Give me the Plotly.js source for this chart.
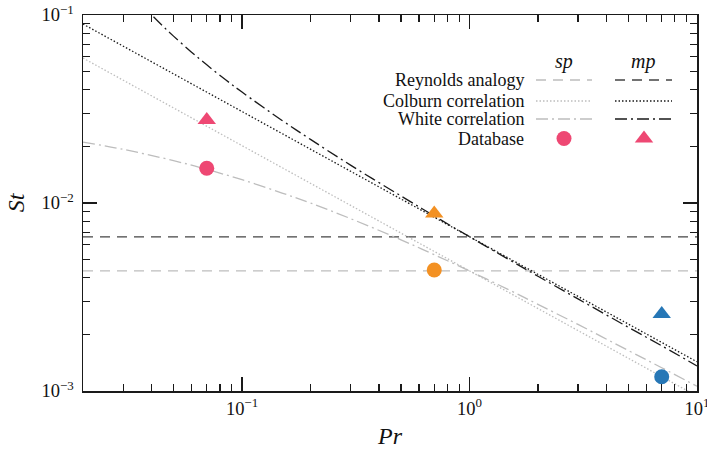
<!DOCTYPE html>
<html>
<head>
<meta charset="utf-8">
<script src="https://cdn.plot.ly/plotly-3.0.1.min.js"></script>
<style>html,body{margin:0;padding:0;background:#fff;}#chart{width:707px;height:455px;}</style>
</head>
<body>
<div id="chart"></div>
<script>
// ---- data ----
const linePr = [0.02, 10];
const reynoldsSp = [0.00435, 0.00435];
const reynoldsMp = [0.0066, 0.0066];
const colburnSp = [0.059, 0.00094];
const colburnMp = [0.0895, 0.00143];

const whiteSpPr = [0.02, 0.03, 0.05, 0.07, 0.1, 0.15, 0.2, 0.3, 0.5, 0.7, 1, 1.5, 2, 3, 5, 7, 10];
const whiteSp = [0.0211, 0.0193, 0.0168, 0.0151, 0.0133, 0.0113, 0.0100, 0.00826, 0.00637, 0.00531, 0.00435, 0.00344, 0.00289, 0.00226, 0.00164, 0.00133, 0.00106];
const whiteMpPr = [0.035, 0.04, 0.045, 0.05, 0.06, 0.07, 0.085, 0.1, 0.15, 0.2, 0.3, 0.5, 0.7, 1, 1.5, 2, 3, 5, 7, 10];
const whiteMp = [0.119, 0.1003, 0.087, 0.0772, 0.0634, 0.0543, 0.0451, 0.0389, 0.0275, 0.0218, 0.0159, 0.0109, 0.00853, 0.00662, 0.00498, 0.00408, 0.00309, 0.00218, 0.00174, 0.00136];

const dbPr = [0.07, 0.7, 7];
const dbSp = [0.0153, 0.0044, 0.00119];
const dbMp = [0.0276, 0.0088, 0.00257];
const dbColors = ['#EE4873', '#F39123', '#2677B6'];

const xTickVals = [0.1, 1, 10];
const xTickText = ['10<sup>−1</sup>', '10<sup>0</sup>', '10<sup>1</sup>'];
const yTickVals = [0.001, 0.01, 0.1];
const yTickText = ['10<sup>−3</sup>', '10<sup>−2</sup>', '10<sup>−1</sup>'];

const legendRows = ['Reynolds analogy', 'Colburn correlation', 'White correlation', 'Database'];

// ---- styles ----
const light = '#bdbdbd';
const dark = '#1a1a1a';
const dashR = '10px,7px';
const dashC = '1.5px,2px';
const dashW = '12px,4px,2px,4px';
const font = '"Liberation Serif", "Times New Roman", serif';

function minorVals(lo, hi) {
  const v = [];
  for (let e = lo; e < hi; e++) for (let m = 2; m <= 9; m++) v.push(m * Math.pow(10, e));
  return v;
}

const traces = [
  {x: linePr, y: reynoldsSp, mode: 'lines', line: {color: light, width: 1.3, dash: dashR}},
  {x: linePr, y: reynoldsMp, mode: 'lines', line: {color: '#444', width: 1.3, dash: dashR}},
  {x: linePr, y: colburnSp, mode: 'lines', line: {color: light, width: 1.3, dash: dashC}},
  {x: linePr, y: colburnMp, mode: 'lines', line: {color: dark, width: 1.3, dash: dashC}},
  {x: whiteSpPr, y: whiteSp, mode: 'lines', line: {color: light, width: 1.3, dash: dashW, shape: 'spline'}},
  {x: whiteMpPr, y: whiteMp, mode: 'lines', line: {color: dark, width: 1.3, dash: dashW, shape: 'spline'}},
  {x: dbPr, y: dbSp, mode: 'markers', marker: {symbol: 'circle', size: 15, color: dbColors}},
  {x: dbPr, y: dbMp, mode: 'markers', marker: {symbol: 'triangle-up', size: 16, color: dbColors}},
];

// legend drawn on an overlay axis pair measured in plot pixels
const rowY = [65, 86, 104, 123.5];
const spX = [453, 509], mpX = [532, 589];
const legStyles = [
  [{color: light, dash: dashR}, {color: '#444', dash: dashR}],
  [{color: light, dash: dashC}, {color: dark, dash: dashC}],
  [{color: light, dash: dashW}, {color: dark, dash: dashW}],
];
legStyles.forEach((st, i) => {
  traces.push({x: spX, y: [rowY[i], rowY[i]], xaxis: 'x2', yaxis: 'y2', mode: 'lines', line: Object.assign({width: 1.3}, st[0])});
  traces.push({x: mpX, y: [rowY[i], rowY[i]], xaxis: 'x2', yaxis: 'y2', mode: 'lines', line: Object.assign({width: 1.3}, st[1])});
});
traces.push({x: [481], y: [rowY[3]], xaxis: 'x2', yaxis: 'y2', mode: 'markers', marker: {symbol: 'circle', size: 15, color: dbColors[0]}});
traces.push({x: [561], y: [rowY[3]], xaxis: 'x2', yaxis: 'y2', mode: 'markers', marker: {symbol: 'triangle-up', size: 16, color: dbColors[0]}});

const annotations = legendRows.map((t, i) => ({
  xref: 'x2', yref: 'y2', x: 443, y: rowY[i], text: t, showarrow: false,
  xanchor: 'right', yanchor: 'middle', font: {family: font, size: 18, color: '#111'}
}));
annotations.push({xref: 'x2', yref: 'y2', x: 481, y: 46, text: '<i>sp</i>', showarrow: false, xanchor: 'center', yanchor: 'middle', font: {family: font, size: 20, color: '#111'}});
annotations.push({xref: 'x2', yref: 'y2', x: 560, y: 46, text: '<i>mp</i>', showarrow: false, xanchor: 'center', yanchor: 'middle', font: {family: font, size: 20, color: '#111'}});

const axisCommon = {
  type: 'log', showgrid: false, zeroline: false, showline: true, linecolor: dark, linewidth: 1.5,
  mirror: 'allticks', ticks: 'inside', ticklen: 14, tickwidth: 1.2, tickcolor: dark, tickmode: 'array',
  tickfont: {family: font, size: 18.5, color: '#111'}, ticklabeloverflow: 'allow',
};

const layout = {
  width: 707, height: 455,
  margin: {l: 83, r: 10, t: 15, b: 64},
  paper_bgcolor: '#fff', plot_bgcolor: '#fff',
  showlegend: false,
  xaxis: Object.assign({}, axisCommon, {
    range: [Math.log10(0.02), 1.0002], tickvals: xTickVals, ticktext: xTickText,
    minor: {tickmode: 'array', tickvals: minorVals(-2, 1).filter(v => v > 0.02), ticks: 'inside', ticklen: 7, tickwidth: 1.1, tickcolor: dark, showgrid: false},
    title: {text: '<i>Pr</i>', font: {family: font, size: 24, color: '#111'}, standoff: 9},
  }),
  yaxis: Object.assign({}, axisCommon, {
    range: [-3, -1], tickvals: yTickVals, ticktext: yTickText, ticklabelstandoff: 4,
    minor: {tickmode: 'array', tickvals: minorVals(-3, -1), ticks: 'inside', ticklen: 7, tickwidth: 1.1, tickcolor: dark, showgrid: false},
    title: {text: '<i>St</i>', font: {family: font, size: 24, color: '#111'}, standoff: 10},
  }),
  xaxis2: {overlaying: 'x', range: [0, 614], visible: false, fixedrange: true},
  yaxis2: {overlaying: 'y', range: [376, 0], visible: false, fixedrange: true},
  annotations: annotations,
};

Plotly.newPlot('chart', traces, layout, {displayModeBar: false, staticPlot: true});
</script>
</body>
</html>
